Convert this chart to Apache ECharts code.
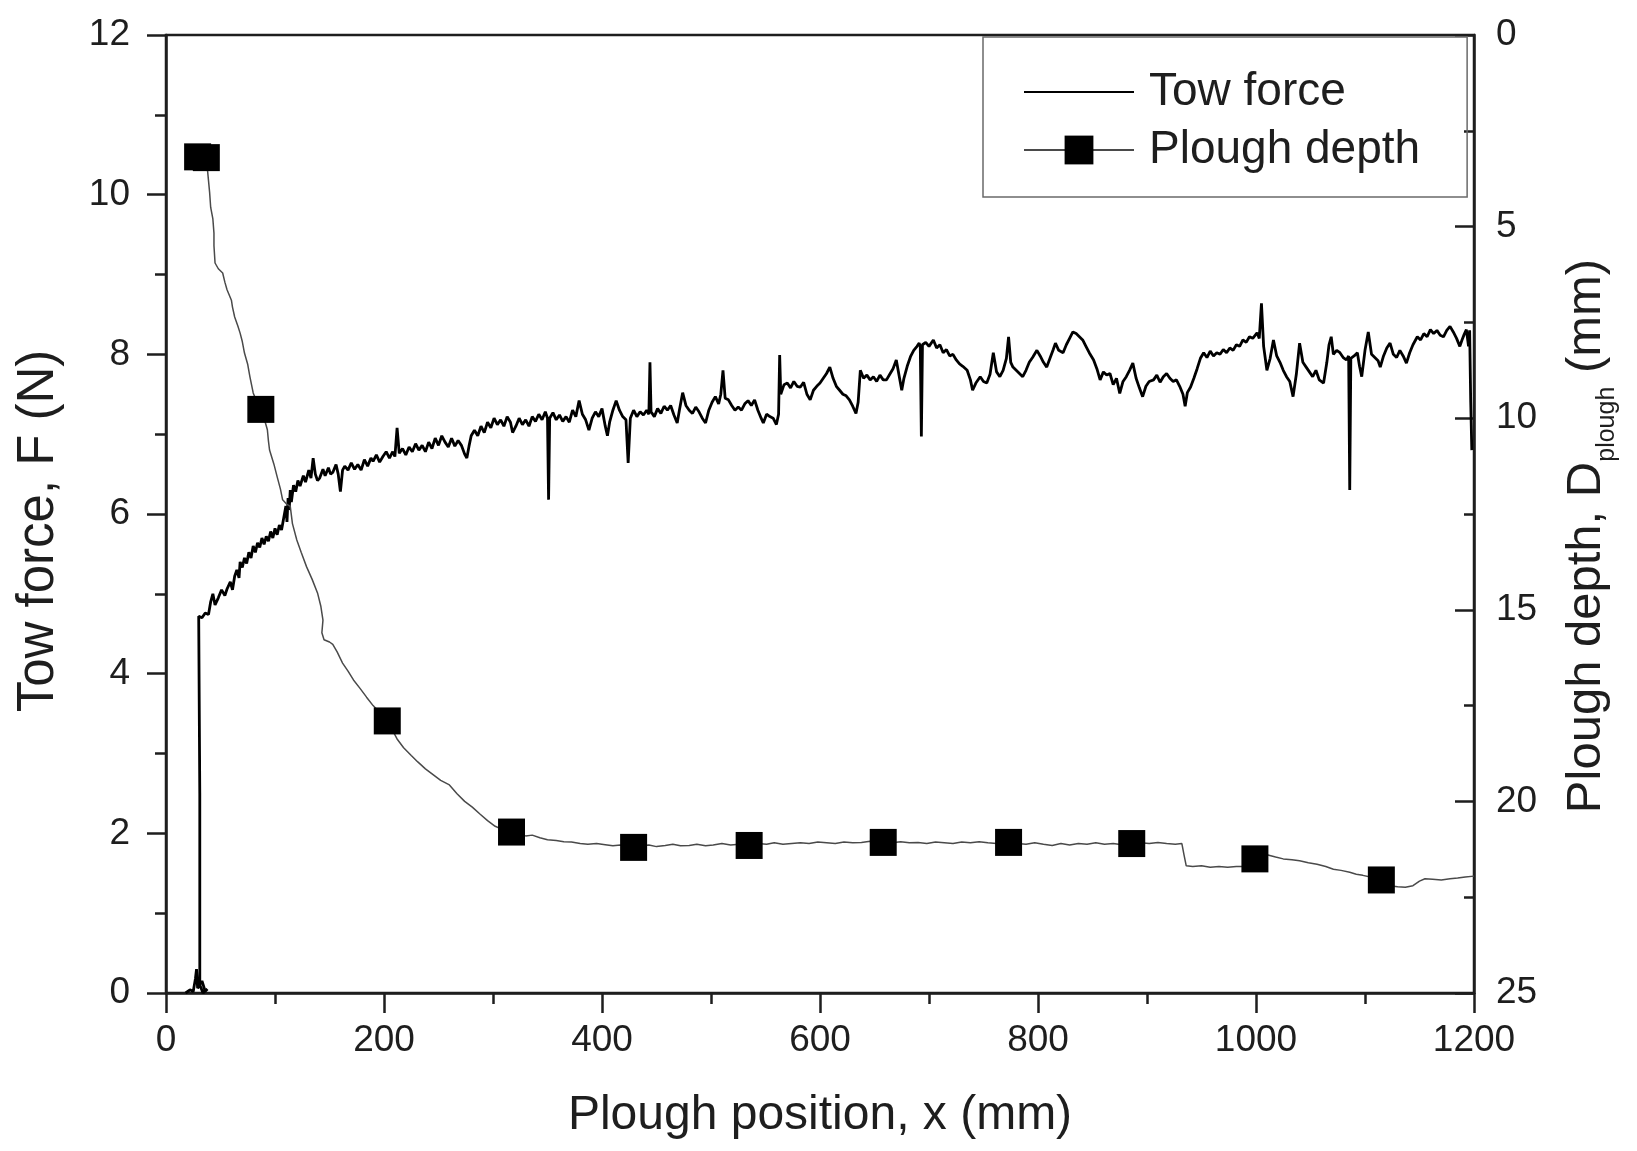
<!DOCTYPE html>
<html>
<head>
<meta charset="utf-8">
<script src="https://cdn.jsdelivr.net/npm/echarts@6/dist/echarts.min.js"></script>
<style>
html,body{margin:0;padding:0;background:#fff;}
#chart{width:1637px;height:1151px;}
</style>
</head>
<body>
<div id="chart"></div>
<script>
// ---- Data ----
const xAxisName = 'Plough position, x (mm)';
const leftAxisName = 'Tow force, F (N)';
const rightAxisName = 'Plough depth, D{s|plough} (mm)';
const legendNames = ['Tow force', 'Plough depth'];

// Tow force (x in mm, F in N)
const towForce = [
[18,0.0],[22,0.04],[25,0.02],[27,0.18],[28,0.3],[29,0.06],[33,0.15],[36,0.02],[38,0.05],[34,0.0],[31,0.1],[31,2.5],[30,4.72],[33,4.7],[36,4.76],[39,4.74],
[41,4.9],[43,5.0],[45,4.86],[48,4.95],[51,5.05],[54,4.98],[56,5.06],[59,5.15],[61,5.05],[63,5.22],[65,5.3],[67,5.2],[68,5.4],[70,5.33],[72,5.45],
[74,5.38],[76,5.52],[78,5.45],[80,5.6],[82,5.52],[84,5.64],[86,5.58],[88,5.7],[90,5.62],[92,5.72],[94,5.66],[96,5.78],[98,5.7],[100,5.82],[102,5.74],
[104,5.86],[106,5.8],[108,5.95],[110,6.1],[111,5.9],[112,6.2],[113,6.05],[114,6.3],[115,6.15],[117,6.36],[119,6.28],[121,6.42],[123,6.35],[126,6.48],
[128,6.4],[131,6.55],[133,6.45],[135,6.7],[137,6.5],[139,6.42],[141,6.45],[144,6.56],[146,6.48],[149,6.58],[151,6.5],[153,6.52],[156,6.62],[158,6.5],
[160,6.28],[162,6.55],[164,6.6],[167,6.55],[170,6.64],[173,6.56],[176,6.62],[179,6.55],[182,6.68],[185,6.6],[188,6.7],[190,6.66],[193,6.74],[196,6.65],
[199,6.72],[202,6.78],[205,6.7],[208,6.78],[210,6.72],[212,7.08],[214,6.76],[217,6.82],[220,6.74],[223,6.84],[226,6.78],[229,6.88],[232,6.8],[235,6.86],
[238,6.78],[241,6.9],[244,6.82],[247,6.95],[250,6.86],[253,6.98],[256,6.9],[259,6.84],[262,6.95],[265,6.85],[268,6.92],[271,6.86],[274,6.75],[276,6.7],
[278,6.85],[280,6.98],[283,7.05],[286,6.98],[289,7.1],[292,7.02],[295,7.15],[298,7.08],[301,7.2],[304,7.12],[307,7.18],[310,7.1],[313,7.22],[316,7.15],
[318,7.02],[321,7.1],[324,7.2],[327,7.12],[330,7.18],[333,7.1],[336,7.22],[339,7.16],[342,7.25],[345,7.18],[348,7.28],[350,7.2],[351,6.18],[352,7.2],
[355,7.27],[358,7.18],[361,7.24],[364,7.16],[367,7.22],[370,7.15],[373,7.3],[376,7.22],[379,7.42],[382,7.25],[385,7.18],[388,7.05],[391,7.2],[394,7.28],
[397,7.22],[400,7.32],[403,7.1],[405,6.98],[407,7.15],[410,7.3],[413,7.42],[416,7.3],[419,7.22],[422,7.18],[424,6.64],[426,7.2],[429,7.3],[432,7.22],
[435,7.28],[438,7.24],[441,7.3],[443,7.25],[444,7.9],[445,7.28],[448,7.22],[451,7.32],[454,7.26],[457,7.35],[460,7.3],[463,7.36],[466,7.24],[469,7.14],
[471,7.3],[474,7.52],[477,7.36],[480,7.3],[483,7.26],[486,7.34],[489,7.28],[492,7.2],[495,7.14],[498,7.3],[501,7.4],[504,7.47],[507,7.38],[509,7.5],
[511,7.8],[513,7.45],[516,7.43],[519,7.36],[522,7.3],[525,7.34],[528,7.3],[531,7.38],[534,7.42],[537,7.36],[540,7.43],[543,7.3],[546,7.2],[548,7.14],
[551,7.25],[554,7.22],[557,7.2],[560,7.12],[562,7.25],[563,7.99],[564,7.5],[567,7.62],[570,7.64],[573,7.58],[576,7.66],[579,7.6],[582,7.59],[585,7.65],
[588,7.5],[591,7.43],[594,7.55],[597,7.6],[600,7.64],[603,7.7],[606,7.76],[609,7.84],[612,7.7],[615,7.6],[618,7.55],[621,7.5],[624,7.48],[627,7.43],
[630,7.35],[633,7.26],[635,7.4],[637,7.8],[640,7.7],[643,7.74],[646,7.68],[649,7.72],[652,7.66],[655,7.74],[658,7.68],[661,7.68],[664,7.75],[667,7.82],
[670,7.93],[673,7.7],[675,7.55],[677,7.7],[680,7.85],[683,7.97],[686,8.05],[689,8.1],[691,8.14],[692,8.1],[693,6.97],[694,8.12],[697,8.15],[700,8.1],
[704,8.18],[707,8.08],[710,8.12],[713,8.02],[716,8.06],[719,7.98],[722,8.0],[725,7.93],[728,7.88],[731,7.85],[735,7.8],[738,7.68],[740,7.55],[743,7.64],
[747,7.72],[750,7.66],[753,7.64],[756,7.75],[759,8.02],[762,7.78],[765,7.72],[768,7.8],[771,7.95],[773,8.22],[775,7.9],[777,7.84],[780,7.8],[783,7.76],
[786,7.72],[789,7.8],[792,7.9],[795,7.96],[799,8.05],[802,7.98],[805,7.9],[808,7.84],[811,7.95],[814,8.06],[816,8.14],[819,8.05],[823,8.02],[826,8.12],
[829,8.2],[832,8.28],[835,8.26],[838,8.22],[841,8.18],[844,8.1],[847,8.02],[851,7.93],[854,7.82],[857,7.68],[860,7.78],[863,7.74],[866,7.76],[869,7.62],
[872,7.7],[875,7.51],[878,7.66],[881,7.72],[884,7.8],[887,7.89],[890,7.7],[893,7.58],[896,7.47],[899,7.6],[902,7.66],[906,7.68],[909,7.74],[912,7.65],
[915,7.72],[918,7.76],[921,7.7],[924,7.66],[927,7.68],[930,7.6],[933,7.5],[935,7.35],[937,7.52],[940,7.59],[943,7.7],[946,7.82],[949,7.95],[952,8.02],
[955,7.96],[958,8.04],[961,7.98],[964,8.02],[967,8.0],[970,8.06],[973,8.02],[976,8.08],[979,8.05],[982,8.12],[985,8.1],[988,8.18],[991,8.15],[994,8.22],
[997,8.2],[1001,8.27],[1003,8.2],[1005,8.64],[1007,8.1],[1010,7.8],[1013,7.95],[1016,8.18],[1019,7.98],[1022,7.9],[1025,7.8],[1028,7.72],[1031,7.66],
[1034,7.47],[1037,7.75],[1040,8.14],[1043,7.9],[1046,7.84],[1049,7.78],[1052,7.72],[1055,7.8],[1058,7.68],[1062,7.64],[1065,7.9],[1067,8.12],[1069,8.22],
[1071,8.0],[1074,8.05],[1077,8.02],[1080,7.96],[1083,7.93],[1085,7.98],[1086,6.3],[1087,7.95],[1090,7.98],[1093,8.02],[1095,7.85],[1097,7.72],[1100,8.05],
[1103,8.28],[1106,8.0],[1109,7.96],[1112,7.92],[1114,7.84],[1117,7.98],[1120,8.08],[1123,8.14],[1126,8.0],[1129,7.96],[1132,8.05],[1135,7.98],[1138,7.89],
[1141,8.02],[1144,8.12],[1148,8.22],[1151,8.18],[1154,8.26],[1157,8.22],[1160,8.31],[1163,8.26],[1166,8.3],[1169,8.24],[1172,8.22],[1175,8.3],[1178,8.35],
[1181,8.28],[1184,8.2],[1187,8.1],[1189,8.18],[1191,8.25],[1193,8.31],[1195,8.1],[1196,8.3],[1197,7.4],[1198,6.8]
];

// Plough depth trace (x in mm, depth in mm)
const ploughDepth = [
[29,3.18],[33,3.4],[37,3.2],[39,3.8],[40,4.1],[41,4.5],[43,4.8],[44,5.17],[44,5.5],[45,5.95],[48,6.1],[52,6.21],[54,6.45],[56,6.65],[60,6.92],
[61,7.1],[63,7.36],[66,7.6],[68,7.78],[70,8.0],[72,8.3],[75,8.6],[77,8.92],[80,9.34],[83,9.55],[87,9.77],[90,10.0],[93,10.3],[94,10.6],[95,10.83],
[99,11.2],[102,11.53],[105,11.85],[107,12.13],[111,12.25],[114,12.3],[116,12.75],[120,13.18],[124,13.5],[129,13.88],[134,14.2],[139,14.56],[142,14.9],
[144,15.27],[143,15.6],[145,15.78],[150,15.84],[153,15.9],[157,16.1],[162,16.39],[167,16.6],[172,16.83],[178,17.05],[184,17.28],[190,17.5],[196,17.68],[203,17.9],
[207,18.1],[212,18.37],[218,18.6],[225,18.8],[231,18.97],[238,19.15],[245,19.3],[252,19.45],[260,19.57],[267,19.8],[274,20.0],[281,20.15],[288,20.33],
[295,20.5],[302,20.65],[310,20.75],[317,20.8],[324,20.86],[330,20.9],[336,20.88],[343,20.95],[350,21.0],[358,21.02],[365,21.05],[372,21.06],[380,21.1],
[387,21.12],[395,21.1],[403,21.13],[410,21.16],[417,21.14],[423,21.18],[429,21.2],[436,21.16],[443,21.14],[450,21.18],[458,21.15],[465,21.12],[472,21.16],
[480,21.15],[487,21.12],[495,21.16],[502,21.14],[510,21.1],[518,21.14],[526,21.12],[535,21.15],[543,21.1],[551,21.12],[558,21.08],[566,21.12],[574,21.1],
[582,21.08],[590,21.1],[598,21.06],[606,21.08],[614,21.1],[622,21.06],[630,21.08],[638,21.07],[646,21.04],[652,21.07],[658,21.07],[666,21.08],[674,21.05],
[682,21.08],[690,21.07],[698,21.1],[706,21.06],[714,21.08],[722,21.1],[730,21.06],[738,21.08],[746,21.05],[754,21.08],[762,21.1],[773,21.07],[781,21.1],
[789,21.12],[797,21.08],[805,21.12],[813,21.15],[821,21.1],[829,21.14],[837,21.1],[845,21.12],[853,21.08],[861,21.12],[869,21.1],[877,21.13],[886,21.1],
[894,21.08],[902,21.1],[910,21.07],[918,21.1],[926,21.12],[932,21.1],[934,21.4],[936,21.68],[942,21.7],[950,21.68],[958,21.72],[966,21.7],[974,21.72],
[982,21.7],[990,21.7],[996,21.68],[999,21.5],[1003,21.4],[1010,21.39],[1018,21.45],[1025,21.5],[1033,21.52],[1040,21.55],[1048,21.6],[1056,21.64],
[1064,21.7],[1071,21.77],[1078,21.8],[1086,21.85],[1092,21.9],[1098,21.93],[1106,21.98],[1115,22.05],[1122,22.2],[1130,22.23],[1137,22.24],[1144,22.2],
[1150,22.08],[1155,22.02],[1162,22.03],[1170,22.05],[1178,22.02],[1185,22.0],[1192,21.97],[1200,21.95]
];
// x positions (mm) of the square markers on the depth trace
const depthMarkerX = [29,37,87,203,317,429,535,658,773,886,999,1115];

// Axis settings
const xTicks = {min:0, max:1200, interval:200};
const leftTicks = {min:0, max:12, interval:2};
const rightTicks = {min:0, max:25, interval:5};

// ---- Chart ----
const FONT = '"Liberation Sans", Arial, Helvetica, sans-serif';
const INK = '#1e1e1e';
const depthData = ploughDepth.map(p => depthMarkerX.indexOf(p[0]) >= 0
  ? {value: p}
  : {value: p, symbol: 'none'});
const plain = v => String(v);

const chart = echarts.init(document.getElementById('chart'), null, {renderer:'canvas'});
chart.setOption({
  animation: false,
  backgroundColor: '#fff',
  grid: {left:166, right:163, top:35, bottom:158, show:true, borderColor:INK, borderWidth:2.5, backgroundColor:'transparent'},
  legend: {
    orient:'vertical', left:983, top:37,
    padding:[32,47,24,40],
    itemWidth:110, itemHeight:36, itemGap:12,
    borderColor:'#6a6a6a', borderWidth:1.5,
    textStyle:{fontSize:46, fontFamily:FONT, color:INK, padding:[0,0,0,10]},
    data:[
      {name:legendNames[0], itemStyle:{color:'rgba(0,0,0,0)', borderWidth:0}},
      {name:legendNames[1]}
    ]
  },
  xAxis: {
    type:'value', min:xTicks.min, max:xTicks.max, interval:xTicks.interval,
    name:xAxisName, nameLocation:'middle', nameGap:99,
    nameTextStyle:{fontSize:48, fontFamily:FONT, color:INK},
    axisLine:{show:true, onZero:false, lineStyle:{color:INK, width:2.5}},
    axisTick:{show:true, inside:false, length:20, lineStyle:{color:INK, width:2.5}},
    minorTick:{show:true, splitNumber:2, length:11, lineStyle:{color:INK, width:2.5}},
    axisLabel:{fontSize:37, fontFamily:FONT, color:INK, margin:29, formatter:plain},
    splitLine:{show:false}
  },
  yAxis: [
    {
      type:'value', position:'left', min:leftTicks.min, max:leftTicks.max, interval:leftTicks.interval,
      name:leftAxisName, nameLocation:'middle', nameGap:102,
      nameTextStyle:{fontSize:51, fontFamily:FONT, color:INK, padding:[0,34,0,0]},
      axisLine:{show:true, onZero:false, lineStyle:{color:INK, width:2.5}},
      axisTick:{show:true, inside:false, length:19, lineStyle:{color:INK, width:2.5}},
      minorTick:{show:true, splitNumber:2, length:11, lineStyle:{color:INK, width:2.5}},
      axisLabel:{fontSize:37, fontFamily:FONT, color:INK, margin:36, formatter:plain},
      splitLine:{show:false}
    },
    {
      type:'value', position:'right', inverse:true, min:rightTicks.min, max:rightTicks.max, interval:rightTicks.interval,
      name:rightAxisName, nameLocation:'middle', nameGap:78,
      nameTextStyle:{fontSize:49, fontFamily:FONT, color:INK, padding:[0,44,0,0],
        rich:{s:{fontSize:25, fontFamily:FONT, color:INK, verticalAlign:'bottom', lineHeight:68}}},
      axisLine:{show:true, onZero:false, lineStyle:{color:INK, width:2.5}},
      axisTick:{show:true, inside:true, length:19, lineStyle:{color:INK, width:2.5}},
      minorTick:{show:true, splitNumber:2, length:10, lineStyle:{color:INK, width:2.5}},
      axisLabel:{fontSize:37, fontFamily:FONT, color:INK, margin:22, formatter:plain},
      splitLine:{show:false}
    }
  ],
  series: [
    {
      name:legendNames[0], type:'line', xAxisIndex:0, yAxisIndex:0,
      data:towForce, symbol:'none', showSymbol:false,
      lineStyle:{color:'#000', width:2.8}, itemStyle:{color:'#000'},
      z:3
    },
    {
      name:legendNames[1], type:'line', xAxisIndex:0, yAxisIndex:1,
      data:depthData, symbol:'rect', symbolSize:27, showSymbol:true,
      lineStyle:{color:'#4a4a4a', width:1.5}, itemStyle:{color:'#000'},
      z:4
    }
  ]
});
</script>
</body>
</html>
